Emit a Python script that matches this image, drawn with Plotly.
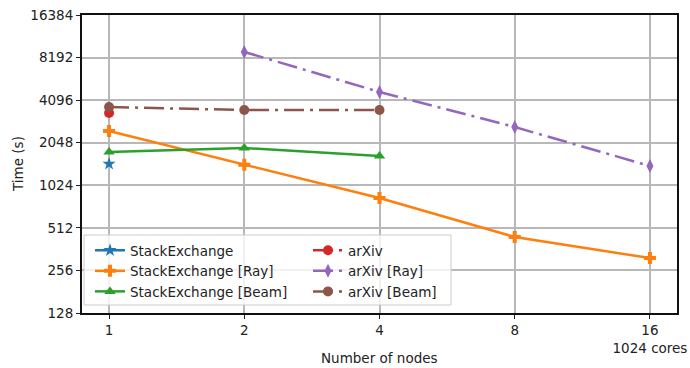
import math
import plotly.graph_objects as go

# Number of nodes and runtimes (seconds)
nodes = [1, 2, 4, 8, 16]
node_labels = ["1", "2", "4", "8", "16<br>1024 cores"]
time_ticks = [128, 256, 512, 1024, 2048, 4096, 8192, 16384]

se_nodes = [1]
se_time = [1450]
se_ray_nodes = [1, 2, 4, 8, 16]
se_ray_time = [2478, 1428, 832, 441, 313]
se_beam_nodes = [1, 2, 4]
se_beam_time = [1760, 1878, 1650]

arxiv_nodes = [1]
arxiv_time = [3320]
arxiv_ray_nodes = [2, 4, 8, 16]
arxiv_ray_time = [8980, 4680, 2645, 1402]
arxiv_beam_nodes = [1, 2, 4]
arxiv_beam_time = [3660, 3490, 3490]

BLUE, ORANGE, GREEN = "#1f77b4", "#ff7f0e", "#2ca02c"
RED, PURPLE, BROWN = "#d62728", "#9467bd", "#8c564b"
DASHDOT = "20px,6px,3px,6px"

# (name, x, y, colour, symbol, dash, legend column)
series = [
    ("StackExchange", se_nodes, se_time, BLUE, "star", "solid", "legend"),
    ("StackExchange [Ray]", se_ray_nodes, se_ray_time, ORANGE, "cross", "solid", "legend"),
    ("StackExchange [Beam]", se_beam_nodes, se_beam_time, GREEN, "triangle-up", "solid", "legend"),
    ("arXiv", arxiv_nodes, arxiv_time, RED, "circle", DASHDOT, "legend2"),
    ("arXiv [Ray]", arxiv_ray_nodes, arxiv_ray_time, PURPLE, "diamond-tall", DASHDOT, "legend2"),
    ("arXiv [Beam]", arxiv_beam_nodes, arxiv_beam_time, BROWN, "circle", DASHDOT, "legend2"),
]

fig = go.Figure()
for name, xs, ys, color, symbol, dash, leg in series:
    fig.add_trace(go.Scatter(
        x=xs, y=ys, name=name, mode="lines+markers", legend=leg,
        line=dict(color=color, width=2.5, dash=dash),
        marker=dict(color=color, symbol=symbol, size=10, line=dict(width=0)),
    ))

FONT = "DejaVu Sans"
TXT = "#222222"
FS = 13.5

W, H = 690, 368
ML, MR, MT, MB = 82, 13, 15, 55
PW, PH = W - ML - MR, H - MT - MB


def px_x(px):
    return (px - ML) / PW


def px_y(py):
    return (H - MB - py) / PH


legend_common = dict(
    orientation="v", xanchor="left", yanchor="top",
    bgcolor="rgba(0,0,0,0)", borderwidth=0, tracegroupgap=0,
    font=dict(family=FONT, size=FS, color=TXT),
)

fig.update_layout(
    width=W, height=H,
    margin=dict(l=ML, r=MR, t=MT, b=MB),
    paper_bgcolor="white", plot_bgcolor="white",
    font=dict(family=FONT, size=FS, color=TXT),
    showlegend=True,
    legend=dict(x=px_x(90), y=px_y(235), **legend_common),
    legend2=dict(x=px_x(308), y=px_y(235), **legend_common),
    shapes=[dict(
        type="rect", xref="paper", yref="paper", layer="above",
        x0=px_x(84), x1=px_x(451), y0=px_y(305), y1=px_y(235),
        fillcolor="rgba(255,255,255,0.8)", line=dict(color="#cccccc", width=1),
    )],
    annotations=[
        dict(text="Number of nodes", xref="paper", yref="paper",
             x=0.5, y=px_y(358), xanchor="center", yanchor="middle",
             showarrow=False, font=dict(family=FONT, size=FS, color=TXT)),
        dict(text="Time (s)", xref="paper", yref="paper", textangle=-90,
             x=px_x(18), y=0.5, xanchor="center", yanchor="middle",
             showarrow=False, font=dict(family=FONT, size=FS, color=TXT)),
    ],
)

fig.update_xaxes(
    type="log", automargin=False,
    range=[math.log10(2 ** -0.2), math.log10(2 ** 4.2)],
    tickvals=nodes, ticktext=node_labels,
    ticks="outside", ticklen=4, tickcolor=TXT,
    tickfont=dict(family=FONT, size=FS, color=TXT),
    showgrid=True, gridcolor="#b8b8b8", gridwidth=1.5,
    showline=True, linecolor="#111111", linewidth=2, mirror=True,
    zeroline=False,
)
fig.update_yaxes(
    type="log", automargin=False,
    range=[math.log10(128), math.log10(16384)],
    tickvals=time_ticks, ticktext=[str(v) for v in time_ticks],
    ticks="outside", ticklen=4, tickcolor=TXT,
    tickfont=dict(family=FONT, size=FS, color=TXT),
    showgrid=True, gridcolor="#b8b8b8", gridwidth=1.5,
    showline=True, linecolor="#111111", linewidth=2, mirror=True,
    zeroline=False,
)

fig.write_html("out.html")
